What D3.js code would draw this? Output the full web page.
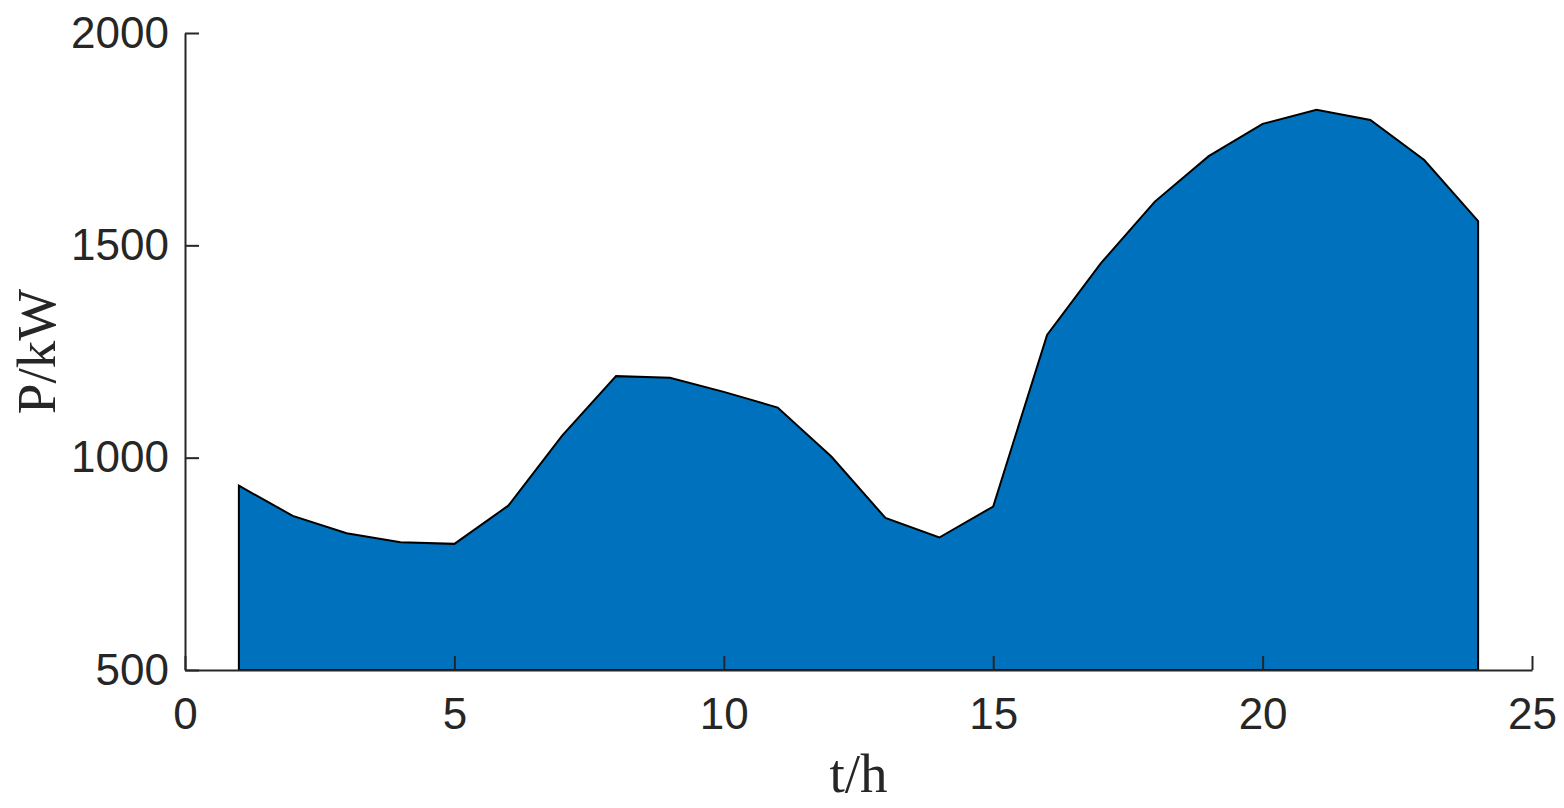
<!DOCTYPE html>
<html>
<head>
<meta charset="utf-8">
<script src="https://cdn.jsdelivr.net/npm/d3@7"></script>
<style>
  body { margin: 0; background: #fff; }
  svg { display: block; }
  .tick text { font-family: "Liberation Sans", Arial, sans-serif; font-size: 44px; fill: #262626; }
  .axis-label { font-family: "Liberation Serif", "Times New Roman", serif; font-size: 55px; fill: #262626; }
</style>
</head>
<body>
<svg id="chart" width="1564" height="808"></svg>
<script>
// hourly load, t/h vs P/kW
var hours = [1,2,3,4,5,6,7,8,9,10,11,12,13,14,15,16,17,18,19,20,21,22,23,24];
var load = [934,863,822,801,797,887,1052,1192,1188,1155,1118,1002,858,812,885,
            1289,1458,1603,1710,1786,1819,1795,1701,1557];
var xTicks = [0,5,10,15,20,25];
var yTicks = [500,1000,1500,2000];

var svg = d3.select("#chart");
// note: "top" is reserved on window, so use plot* names
var plotLeft = 185, plotRight = 1532, plotTop = 33, plotBottom = 670;

var x = d3.scaleLinear().domain([0, 25]).range([plotLeft, plotRight]);
var y = d3.scaleLinear().domain([500, 2000]).range([plotBottom, plotTop]);

var data = hours.map(function(h, i){ return {t: h, p: load[i]}; });

// filled area, closed down to the baseline
var area = d3.area()
  .x(function(d){ return x(d.t); })
  .y0(y(500))
  .y1(function(d){ return y(d.p); });

svg.append("path")
  .datum(data)
  .attr("d", area)
  .attr("fill", "#0072BD")
  .attr("stroke", "#000")
  .attr("stroke-width", 2)
  .attr("stroke-linejoin", "miter");

// axes - ticks point inward like matlab
var xAxis = d3.axisBottom(x).tickValues(xTicks).tickFormat(d3.format("d"))
  .tickSizeInner(-14).tickSizeOuter(0).tickPadding(28);
var yAxis = d3.axisLeft(y).tickValues(yTicks).tickFormat(d3.format("d"))
  .tickSizeInner(-14).tickSizeOuter(0).tickPadding(16);

var gx = svg.append("g").attr("transform", "translate(0," + plotBottom + ")").call(xAxis);
var gy = svg.append("g").attr("transform", "translate(" + plotLeft + ",0)").call(yAxis);

[gx, gy].forEach(function(g){
  g.select(".domain").attr("stroke", "#262626").attr("stroke-width", 2);
  g.selectAll(".tick line").attr("stroke", "#262626").attr("stroke-width", 2);
});
gx.selectAll(".tick text").attr("dy", "0.71em");

svg.append("text")
  .attr("class", "axis-label")
  .attr("x", (plotLeft + plotRight) / 2)
  .attr("y", 792)
  .attr("text-anchor", "middle")
  .text("t/h");

svg.append("text")
  .attr("class", "axis-label")
  .attr("transform", "translate(55," + ((plotTop + plotBottom) / 2) + ") rotate(-90)")
  .attr("text-anchor", "middle")
  .text("P/kW");
</script>
</body>
</html>
